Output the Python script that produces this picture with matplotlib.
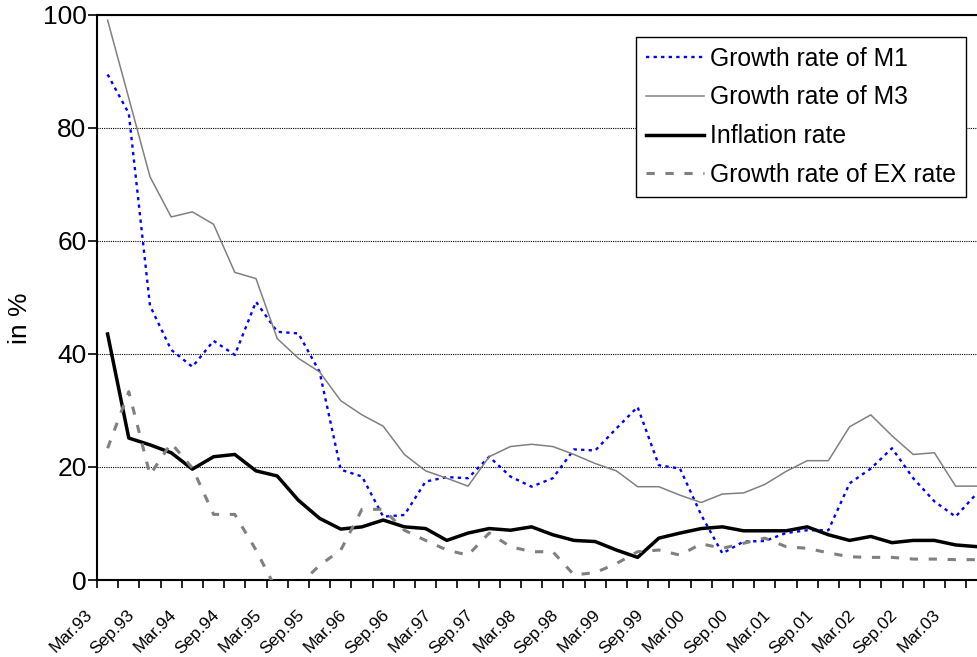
import matplotlib
matplotlib.use('Agg')
import matplotlib.pyplot as plt
import numpy as np
from matplotlib.transforms import ScaledTranslation

# quarterly data, Mar.93 .. Jun.03
m1 = [89.4, 82.5, 48.5, 40.7, 37.7, 42.3, 39.8, 49.2, 43.9, 43.6,
      36.8, 19.5, 18.3, 11.2, 11.5, 17.4, 18.2, 18.0, 21.8, 18.3,
      16.5, 18.0, 23.1, 22.9, 26.8, 30.6, 20.3, 19.7, 11.5, 4.7,
      6.8, 6.9, 8.3, 8.8, 8.8, 17.1, 19.7, 23.3, 18.0, 13.9,
      11.2, 15.3]
m3 = [99.0, 85.2, 71.3, 64.2, 65.1, 62.9, 54.4, 53.3, 42.7, 39.2,
      36.8, 31.7, 29.2, 27.2, 22.2, 19.3, 18.0, 16.6, 21.8, 23.6,
      24.0, 23.6, 22.2, 20.6, 19.3, 16.5, 16.5, 15.0, 13.7, 15.2,
      15.4, 16.9, 19.2, 21.1, 21.1, 27.1, 29.2, 25.5, 22.2, 22.5,
      16.6, 16.6]
inflation = [43.5, 25.1, 23.9, 22.5, 19.6, 21.8, 22.2, 19.3, 18.4, 14.1,
             10.9, 9.0, 9.4, 10.6, 9.4, 9.1, 7.0, 8.3, 9.1, 8.8,
             9.4, 8.0, 7.0, 6.8, 5.3, 4.0, 7.4, 8.3, 9.1, 9.4,
             8.7, 8.7, 8.7, 9.4, 8.0, 7.0, 7.7, 6.6, 7.0, 7.0,
             6.2, 5.9]
ex_rate = [23.3, 33.3, 18.6, 24.2, 19.8, 11.6, 11.6, 5.3, -2.0, -1.0,
           2.6, 5.3, 12.5, 12.5, 8.8, 7.0, 5.3, 4.4, 8.3, 5.9,
           5.0, 5.0, 0.9, 1.3, 2.9, 5.0, 5.3, 4.4, 6.4, 5.6,
           6.5, 7.4, 5.9, 5.6, 4.8, 4.1, 4.0, 4.0, 3.7, 3.7,
           3.6, 3.6]
tick_labels = ['Mar.93', 'Sep.93', 'Mar.94', 'Sep.94', 'Mar.95', 'Sep.95',
               'Mar.96', 'Sep.96', 'Mar.97', 'Sep.97', 'Mar.98', 'Sep.98',
               'Mar.99', 'Sep.99', 'Mar.00', 'Sep.00', 'Mar.01', 'Sep.01',
               'Mar.02', 'Sep.02', 'Mar.03']

plt.rcParams['font.family'] = ['Liberation Sans', 'DejaVu Sans']

fig = plt.figure(figsize=(9.77, 6.57), dpi=100)
# plot area runs past the right edge of the picture (chart was cropped)
ax = fig.add_axes([97 / 977, 77 / 657, 890.4 / 977, 565.5 / 657])

x = np.arange(len(m1))
ax.plot(x, m1, color='#0000ff', lw=1.7, linestyle=(0, (1.4, 1.8)),
        label='Growth rate of M1', zorder=3)
ax.plot(x, m3, color='#808080', lw=1.1, label='Growth rate of M3', zorder=3)
ax.plot(x, inflation, color='black', lw=2.5, label='Inflation rate', zorder=3)
ax.plot(x, ex_rate, color='#808080', lw=2.2, linestyle=(0, (2.7, 3.5)),
        label='Growth rate of EX rate', zorder=3)

ax.set_xlim(-0.5, len(m1) - 0.5)
ax.set_ylim(0, 100)
ax.set_yticks([0, 20, 40, 60, 80, 100])
ax.yaxis.grid(True, color='black', linestyle=(0, (1, 1)), linewidth=0.8)
ax.set_axisbelow(True)

for side in ['left', 'bottom', 'top']:
    ax.spines[side].set_color('black')
    ax.spines[side].set_linewidth(1.5)
ax.spines['right'].set_visible(False)

ax.tick_params(axis='y', labelsize=19, length=6.5, width=1.2, pad=1)
ax.set_xticks(np.arange(0, len(m1), 2))
ax.set_xticklabels(tick_labels, rotation=45, ha='right', va='center',
                   rotation_mode='anchor', fontsize=12.5)
ax.set_xticks(np.arange(-0.5, len(m1)), minor=True)
ax.tick_params(axis='x', which='major', length=0, pad=23.5)
ax.tick_params(axis='x', which='minor', length=5.8, width=1.2)
shift = ScaledTranslation(-0.18, 0, fig.dpi_scale_trans)
for lab in ax.get_xticklabels():
    lab.set_transform(lab.get_transform() + shift)

ax.set_ylabel('in %', fontsize=19)
ax.yaxis.set_label_coords(-0.073, 0.463)

leg = ax.legend(loc='upper right', bbox_to_anchor=(966 / 977, 1 - 36.7 / 657),
                bbox_transform=fig.transFigure, borderaxespad=0,
                fontsize=17.8, handlelength=2.35, handletextpad=0.25,
                labelspacing=0.6, borderpad=0.4, fancybox=False,
                framealpha=1, edgecolor='black')
leg.get_frame().set_linewidth(1.0)

fig.savefig('out.png', dpi=100)
